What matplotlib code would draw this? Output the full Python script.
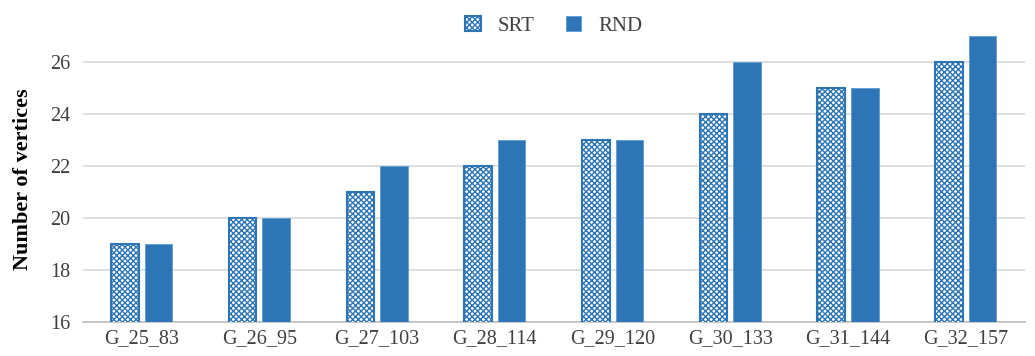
import numpy as np
import matplotlib
matplotlib.use("Agg")
from matplotlib import pyplot as plt

graphs = ['G_25_83', 'G_26_95', 'G_27_103', 'G_28_114',
          'G_29_120', 'G_30_133', 'G_31_144', 'G_32_157']
srt = [19, 20, 21, 22, 23, 24, 25, 26]
rnd = [19, 20, 22, 23, 23, 26, 25, 27]

blue = '#2E75B6'
plt.rcParams['font.family'] = ['Liberation Serif', 'DejaVu Serif']
plt.rcParams['hatch.color'] = blue
plt.rcParams['hatch.linewidth'] = 1.0

fig = plt.figure(figsize=(10.35, 3.56), dpi=100)
ax = fig.add_axes([0.080, 0.0955, 0.910, 0.8035])

x = np.arange(len(graphs))
w = 0.235
gap = 0.05
ax.bar(x - (w + gap) / 2, srt, w, color='white', edgecolor=blue,
       hatch='xxxxxx', linewidth=1.5, label='SRT', zorder=3)
ax.bar(x + (w + gap) / 2, rnd, w, color=blue, edgecolor='#5B9BD5',
       linewidth=0.6, label='RND', zorder=3)

ax.set_ylim(16, 27)
ax.set_xlim(-0.5, len(graphs) - 0.5)
ax.set_yticks(range(16, 27, 2))
ax.set_xticks(x)
ax.set_xticklabels(graphs)
ax.grid(axis='y', color='#D9D9D9', linewidth=1.2, zorder=0)
for s in ['top', 'right', 'left']:
    ax.spines[s].set_visible(False)
ax.spines['bottom'].set_color('#BFBFBF')
ax.spines['bottom'].set_linewidth(1.2)
ax.tick_params(axis='both', length=0, labelsize=14.5, colors='#404040', pad=5)
ax.tick_params(axis='y', pad=9)
ax.set_ylabel('Number of vertices', fontsize=16, fontweight='bold', labelpad=12)

ax.legend(loc='upper center', bbox_to_anchor=(0.5, 1.135), ncol=2, frameon=False,
          fontsize=15, handlelength=0.75, handleheight=0.75, columnspacing=1.5,
          handletextpad=0.8, labelcolor='#404040')

fig.savefig('out.png', dpi=100)
